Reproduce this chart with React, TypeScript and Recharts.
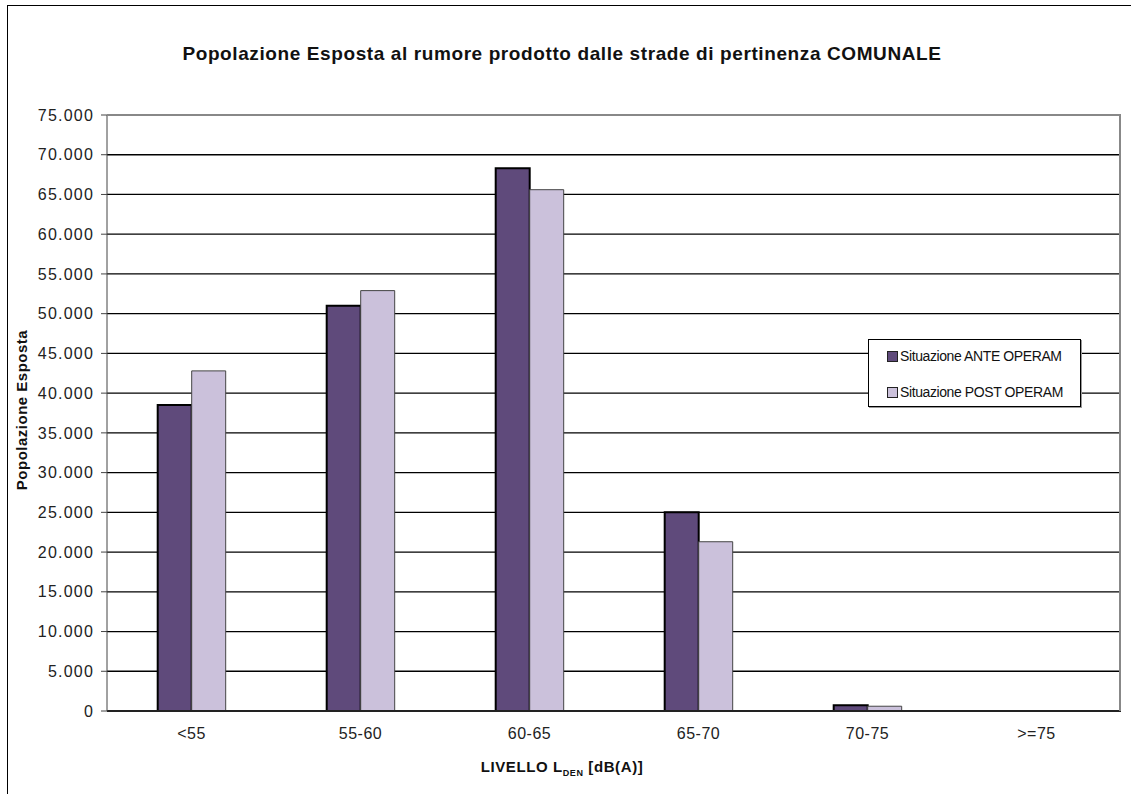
import React from "react";
import {
  BarChart,
  Bar,
  XAxis,
  YAxis,
  CartesianGrid,
} from "recharts";

const categories = ["<55", "55-60", "60-65", "65-70", "70-75", ">=75"];
const anteOperam = [38500, 51000, 68300, 25000, 720, 0];
const postOperam = [42800, 52900, 65600, 21300, 600, 0];
const yTicks = [0, 5000, 10000, 15000, 20000, 25000, 30000, 35000, 40000, 45000, 50000, 55000, 60000, 65000, 70000, 75000];

const data = categories.map((c, i) => ({
  livello: c,
  ante: anteOperam[i],
  post: postOperam[i],
}));

const fmt = (v: number) => (v === 0 ? "0" : v.toLocaleString("it-IT"));

const font = "Arial, 'Liberation Sans', sans-serif";

function LegendBox() {
  const row = (color: string, label: string) => (
    <div style={{ display: "flex", alignItems: "center", height: 24 }}>
      <span
        style={{
          display: "inline-block",
          width: 9,
          height: 9,
          background: color,
          border: "1px solid #222",
          marginRight: 2,
        }}
      />
      <span style={{ letterSpacing: -0.4 }}>{label}</span>
    </div>
  );
  return (
    <div
      style={{
        position: "absolute",
        left: 868,
        top: 339,
        width: 213,
        height: 68,
        background: "#fff",
        border: "1px solid #000",
        boxSizing: "border-box",
        fontFamily: font,
        fontSize: 14,
        color: "#111",
        padding: "4px 0 0 18px",
        boxShadow: "1px 1px 0 #999",
      }}
    >
      <div>{row("#5f4a7b", "Situazione ANTE OPERAM")}</div>
      <div style={{ marginTop: 12 }}>{row("#cbc1db", "Situazione POST OPERAM")}</div>
    </div>
  );
}

export default function App() {
  return (
    <div style={{ position: "absolute", left: 0, top: 0, width: 1131, height: 794, background: "#fff", overflow: "hidden" }}>
      <div
        style={{
          position: "absolute",
          left: 7,
          top: 5,
          width: 1200,
          height: 900,
          borderLeft: "1px solid #000",
          borderTop: "1px solid #000",
        }}
      />
      <div
        style={{
          position: "absolute",
          left: 0,
          width: 1124,
          top: 43,
          textAlign: "center",
          fontFamily: font,
          fontWeight: "bold",
          fontSize: 19,
          letterSpacing: 0.6,
          color: "#111",
        }}
      >
        Popolazione Esposta al rumore prodotto dalle strade di pertinenza COMUNALE
      </div>
      <div style={{ position: "absolute", left: 0, top: 0 }}>
        <BarChart
          width={1131}
          height={794}
          data={data}
          margin={{ top: 115, right: 10, bottom: 53, left: 7 }}
          barCategoryGap="30%"
          barGap={0}
        >
          <CartesianGrid vertical={false} stroke="#000" strokeWidth={1.3} />
          <XAxis
            dataKey="livello"
            height={30}
            stroke="#222"
            strokeWidth={2}
            tickLine={false}
            tick={{ fontFamily: font, fontSize: 16, fill: "#222", letterSpacing: 0.5 }}
            tickMargin={11}
          />
          <YAxis
            width={100}
            domain={[0, 75000]}
            ticks={yTicks}
            interval={0}
            tickFormatter={fmt}
            stroke="#444"
            tickSize={6}
            tick={{ fontFamily: font, fontSize: 16, fill: "#222", letterSpacing: 1.2 }}
            tickMargin={7}
          />
          <Bar dataKey="ante" fill="#5f4a7b" stroke="#000" strokeWidth={2} isAnimationActive={false} />
          <Bar dataKey="post" fill="#cbc1db" stroke="#444" strokeWidth={1} isAnimationActive={false} />
        </BarChart>
      </div>
      {/* plot area frame on top and right */}
      <div
        style={{
          position: "absolute",
          left: 107,
          top: 114,
          width: 1014,
          height: 597,
          borderTop: "2px solid #888",
          borderRight: "2px solid #888",
          boxSizing: "border-box",
          pointerEvents: "none",
        }}
      />
      <LegendBox />
      <div
        style={{
          position: "absolute",
          left: 21,
          top: 410,
          transform: "translate(-50%, -50%) rotate(-90deg)",
          whiteSpace: "nowrap",
          fontFamily: font,
          fontWeight: "bold",
          fontSize: 15,
          letterSpacing: 0.5,
          color: "#111",
        }}
      >
        Popolazione Esposta
      </div>
      <div
        style={{
          position: "absolute",
          left: 0,
          width: 1124,
          top: 758,
          textAlign: "center",
          fontFamily: font,
          fontWeight: "bold",
          fontSize: 15,
          letterSpacing: 0.6,
          color: "#111",
        }}
      >
        LIVELLO L<sub style={{ fontSize: 9 }}>DEN</sub> [dB(A)]
      </div>
    </div>
  );
}
